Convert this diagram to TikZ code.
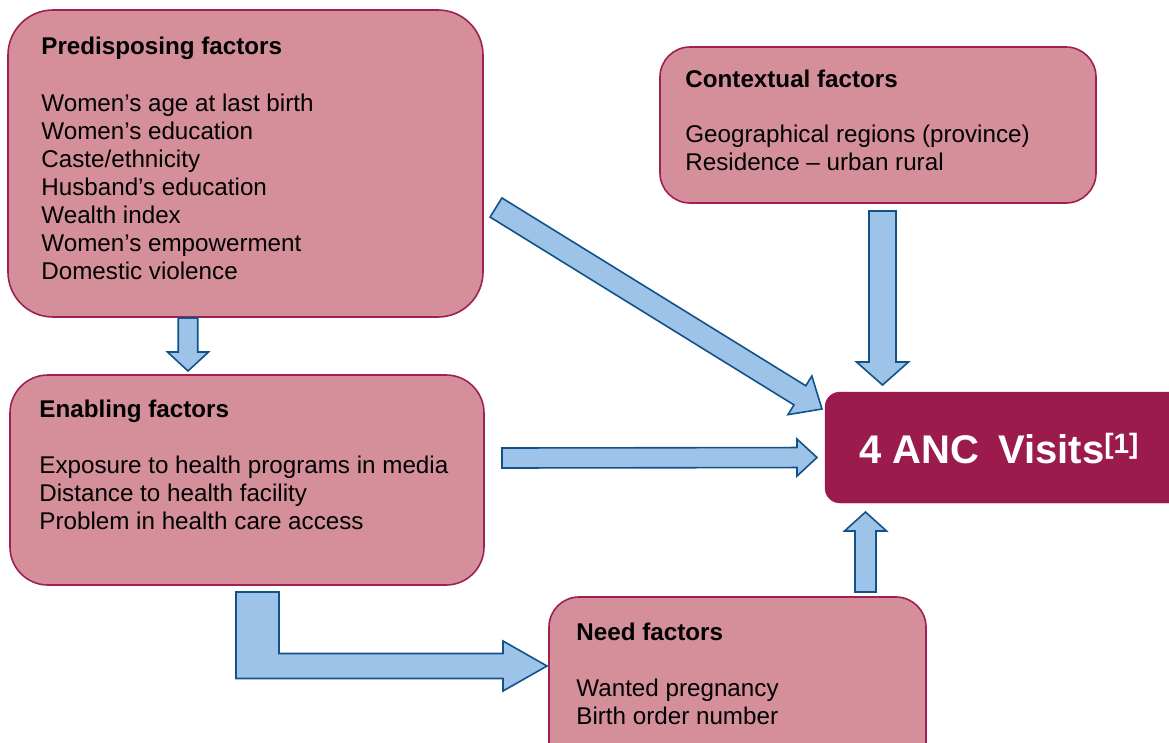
\documentclass[tikz,border=0pt]{standalone}
\usepackage{fontspec}
\setmainfont{Liberation Sans}
\usepackage{tikz}
\usetikzlibrary{calc,positioning}

\definecolor{factorfill}{RGB}{212,143,155}
\definecolor{factorline}{RGB}{160,32,82}
\definecolor{ancfill}{RGB}{155,27,77}
\definecolor{arrowfill}{RGB}{157,196,232}
\definecolor{arrowline}{RGB}{18,82,138}

% tail, tip, half shaft, half head, head length
\newcommand{\blockarrow}[5]{%
  \path ($(#2)!#5!(#1)$) coordinate (neck);
  \draw[arrowbody] ($(#1)!#3!90:(#2)$) -- ($(neck)!#3!90:(#2)$) -- ($(neck)!#4!90:(#2)$)
    -- (#2) -- ($(neck)!#4!-90:(#2)$) -- ($(neck)!#3!-90:(#2)$) -- ($(#1)!#3!-90:(#2)$) -- cycle;
}

\begin{document}
\begin{tikzpicture}
    [
      x=1pt, y=-1pt,
      factor/.style = {draw=factorline, fill=factorfill, line width=1.6pt},
      txt/.style = {inner sep=0pt, align=left, font=\fontsize{24.2}{28}\selectfont},
      arrowbody/.style = {draw=arrowline, fill=arrowfill, line width=1.6pt, line join=miter},
    ]
    \useasboundingbox (0,0) rectangle (1169,742);
    \clip (0,0) rectangle (1169,742);

    \node[factor, rounded corners=45pt, minimum width=475pt, minimum height=307pt](pre) at (245.5,163.5) {};
    \node[factor, rounded corners=30pt, minimum width=436pt, minimum height=156pt](ctx) at (878,125) {};
    \node[factor, rounded corners=38pt, minimum width=474pt, minimum height=210pt](enab) at (247,480) {};
    \node[factor, rounded corners=30pt, minimum width=377pt, minimum height=193pt](need) at (737.5,693.5) {};
    \node[draw=ancfill, fill=ancfill, rounded corners=15pt, minimum width=360pt, minimum height=111pt](anc) at (1005,447.5) {};

    \node[txt, below right=28pt and 34pt of pre.north west](pretxt) {\textbf{Predisposing factors}\\[28.5pt]
      Women’s age at last birth\\ Women’s education\\ Caste/ethnicity\\ Husband’s education\\
      Wealth index\\ Women’s empowerment\\ Domestic violence};
    \node[txt, below right=24pt and 26pt of ctx.north west](ctxtxt) {\textbf{Contextual factors}\\[27pt]
      Geographical regions (province)\\ Residence – urban rural};
    \node[txt, below right=26pt and 30pt of enab.north west](enabtxt) {\textbf{Enabling factors}\\[28pt]
      Exposure to health programs in media\\ Distance to health facility\\ Problem in health care access};
    \node[txt, below right=27pt and 28pt of need.north west](needtxt) {\textbf{Need factors}\\[28pt]
      Wanted pregnancy\\ Birth order number};
    \node[inner sep=0pt, anchor=base west, text=white, font=\fontsize{40}{44}\selectfont\bfseries](anctxt) at (859,463)
      {4 ANC\hspace{0.2em} Visits\textsuperscript{[1]}};

    \coordinate (pe0) at (188,318);   \coordinate (pe1) at (188,371);
    \coordinate (pa0) at (496,207.5); \coordinate (pa1) at (822,409);
    \coordinate (ea0) at (502,458);   \coordinate (ea1) at (817,457.5);
    \coordinate (ca0) at (882.5,211); \coordinate (ca1) at (882.5,385);
    \coordinate (na0) at (865.5,592); \coordinate (na1) at (865.5,512);
    \coordinate (en0) at (257.5,592); \coordinate (en1) at (547,666);

    \blockarrow{pe0}{pe1}{9.75pt}{20.5pt}{19pt}
    \blockarrow{pa0}{pa1}{11.25pt}{22.7pt}{26pt}
    \blockarrow{ea0}{ea1}{10pt}{18.5pt}{20pt}
    \blockarrow{ca0}{ca1}{13.5pt}{26pt}{23pt}
    \blockarrow{na0}{na1}{10.5pt}{21pt}{19pt}
    \draw[arrowbody] ([xshift=-21.5pt]en0) -- ([xshift=21.5pt]en0) |- ([xshift=-44pt,yshift=12.5pt]en1)
      -- ([xshift=-44pt,yshift=25pt]en1) -- (en1) -- ([xshift=-44pt,yshift=-25pt]en1)
      -- ([xshift=-44pt,yshift=-12.5pt]en1) -| ([xshift=-21.5pt]en0) -- cycle;
  \end{tikzpicture}
\end{document}
